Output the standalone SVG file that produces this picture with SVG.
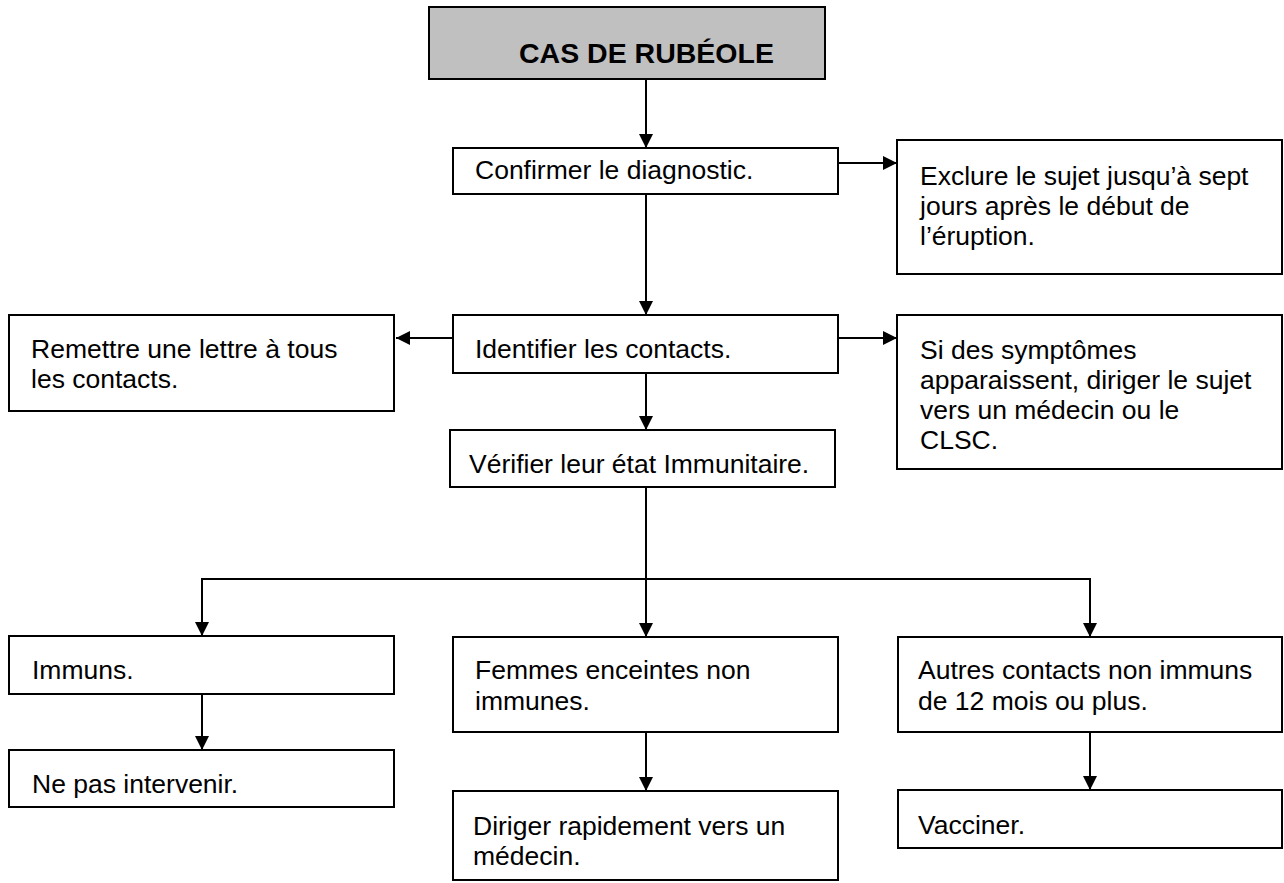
<svg xmlns="http://www.w3.org/2000/svg" width="1284" height="883" viewBox="0 0 1284 883">
<style>
.box{fill:#fff;stroke:#000;stroke-width:2}
.head{fill:#c0c0c0;stroke:#000;stroke-width:2}
.t{font-family:"Liberation Sans",Arial,sans-serif;font-size:26.5px;fill:#000}
.b{font-family:"Liberation Sans",Arial,sans-serif;font-size:28.5px;font-weight:bold;fill:#000}
.c{fill:none;stroke:#000;stroke-width:2}
</style>
<defs>
<marker id="ah" markerUnits="userSpaceOnUse" markerWidth="16" markerHeight="16" refX="14" refY="7" orient="auto">
<path d="M0,0 L14,7 L0,14 Z" fill="#000"/>
</marker>
</defs>
<rect width="1284" height="883" fill="#fff"/>
<g id="connectors">
<line class="c" x1="646" y1="79" x2="646" y2="148" marker-end="url(#ah)"/>
<line class="c" x1="838" y1="163" x2="897" y2="163" marker-end="url(#ah)"/>
<line class="c" x1="646" y1="192" x2="646" y2="315" marker-end="url(#ah)"/>
<line class="c" x1="453" y1="338" x2="396" y2="338" marker-end="url(#ah)"/>
<line class="c" x1="838" y1="338" x2="897" y2="338" marker-end="url(#ah)"/>
<line class="c" x1="646" y1="373" x2="646" y2="430" marker-end="url(#ah)"/>
<line class="c" x1="646" y1="487" x2="646" y2="637" marker-end="url(#ah)"/>
<polyline class="c" points="202,636 202,579 1090,579 1090,637"/>
<line class="c" x1="202" y1="579" x2="202" y2="636" marker-end="url(#ah)"/>
<line class="c" x1="1090" y1="579" x2="1090" y2="637" marker-end="url(#ah)"/>
<line class="c" x1="202" y1="694" x2="202" y2="750" marker-end="url(#ah)"/>
<line class="c" x1="646" y1="732" x2="646" y2="791" marker-end="url(#ah)"/>
<line class="c" x1="1090" y1="732" x2="1090" y2="790" marker-end="url(#ah)"/>
</g>
<g id="cas">
<rect class="head" x="429" y="7" width="396" height="72"/>
<text class="b" x="519" y="63">CAS DE RUBÉOLE</text>
</g>
<g id="confirmer">
<rect class="box" x="453" y="148" width="385" height="46"/>
<text class="t" x="475" y="179">Confirmer le diagnostic.</text>
</g>
<g id="exclure">
<rect class="box" x="897" y="140" width="385" height="134"/>
<text class="t" x="920" y="185">Exclure le sujet jusqu’à sept</text>
<text class="t" x="920" y="215">jours après le début de</text>
<text class="t" x="920" y="245">l’éruption.</text>
</g>
<g id="identifier">
<rect class="box" x="453" y="315" width="385" height="58"/>
<text class="t" x="475" y="358">Identifier les contacts.</text>
</g>
<g id="remettre">
<rect class="box" x="9" y="315" width="385" height="96"/>
<text class="t" x="31" y="358">Remettre une lettre à tous</text>
<text class="t" x="31" y="388">les contacts.</text>
</g>
<g id="symptomes">
<rect class="box" x="897" y="315" width="385" height="154"/>
<text class="t" x="920" y="359">Si des symptômes</text>
<text class="t" x="920" y="389">apparaissent, diriger le sujet</text>
<text class="t" x="920" y="419">vers un médecin ou le</text>
<text class="t" x="920" y="449">CLSC.</text>
</g>
<g id="verifier">
<rect class="box" x="450" y="430" width="385" height="57"/>
<text class="t" x="469" y="473">Vérifier leur état Immunitaire.</text>
</g>
<g id="immuns">
<rect class="box" x="9" y="636" width="385" height="58"/>
<text class="t" x="32" y="679">Immuns.</text>
</g>
<g id="femmes">
<rect class="box" x="453" y="637" width="385" height="95"/>
<text class="t" x="475" y="679">Femmes enceintes non</text>
<text class="t" x="475" y="710">immunes.</text>
</g>
<g id="autres">
<rect class="box" x="898" y="637" width="384" height="95"/>
<text class="t" x="918" y="679">Autres contacts non immuns</text>
<text class="t" x="918" y="710">de 12 mois ou plus.</text>
</g>
<g id="nepas">
<rect class="box" x="9" y="750" width="385" height="57"/>
<text class="t" x="32" y="793">Ne pas intervenir.</text>
</g>
<g id="diriger">
<rect class="box" x="453" y="791" width="385" height="89"/>
<text class="t" x="473" y="835">Diriger rapidement vers un</text>
<text class="t" x="473" y="865">médecin.</text>
</g>
<g id="vacciner">
<rect class="box" x="898" y="790" width="384" height="58"/>
<text class="t" x="918" y="834">Vacciner.</text>
</g>
</svg>
